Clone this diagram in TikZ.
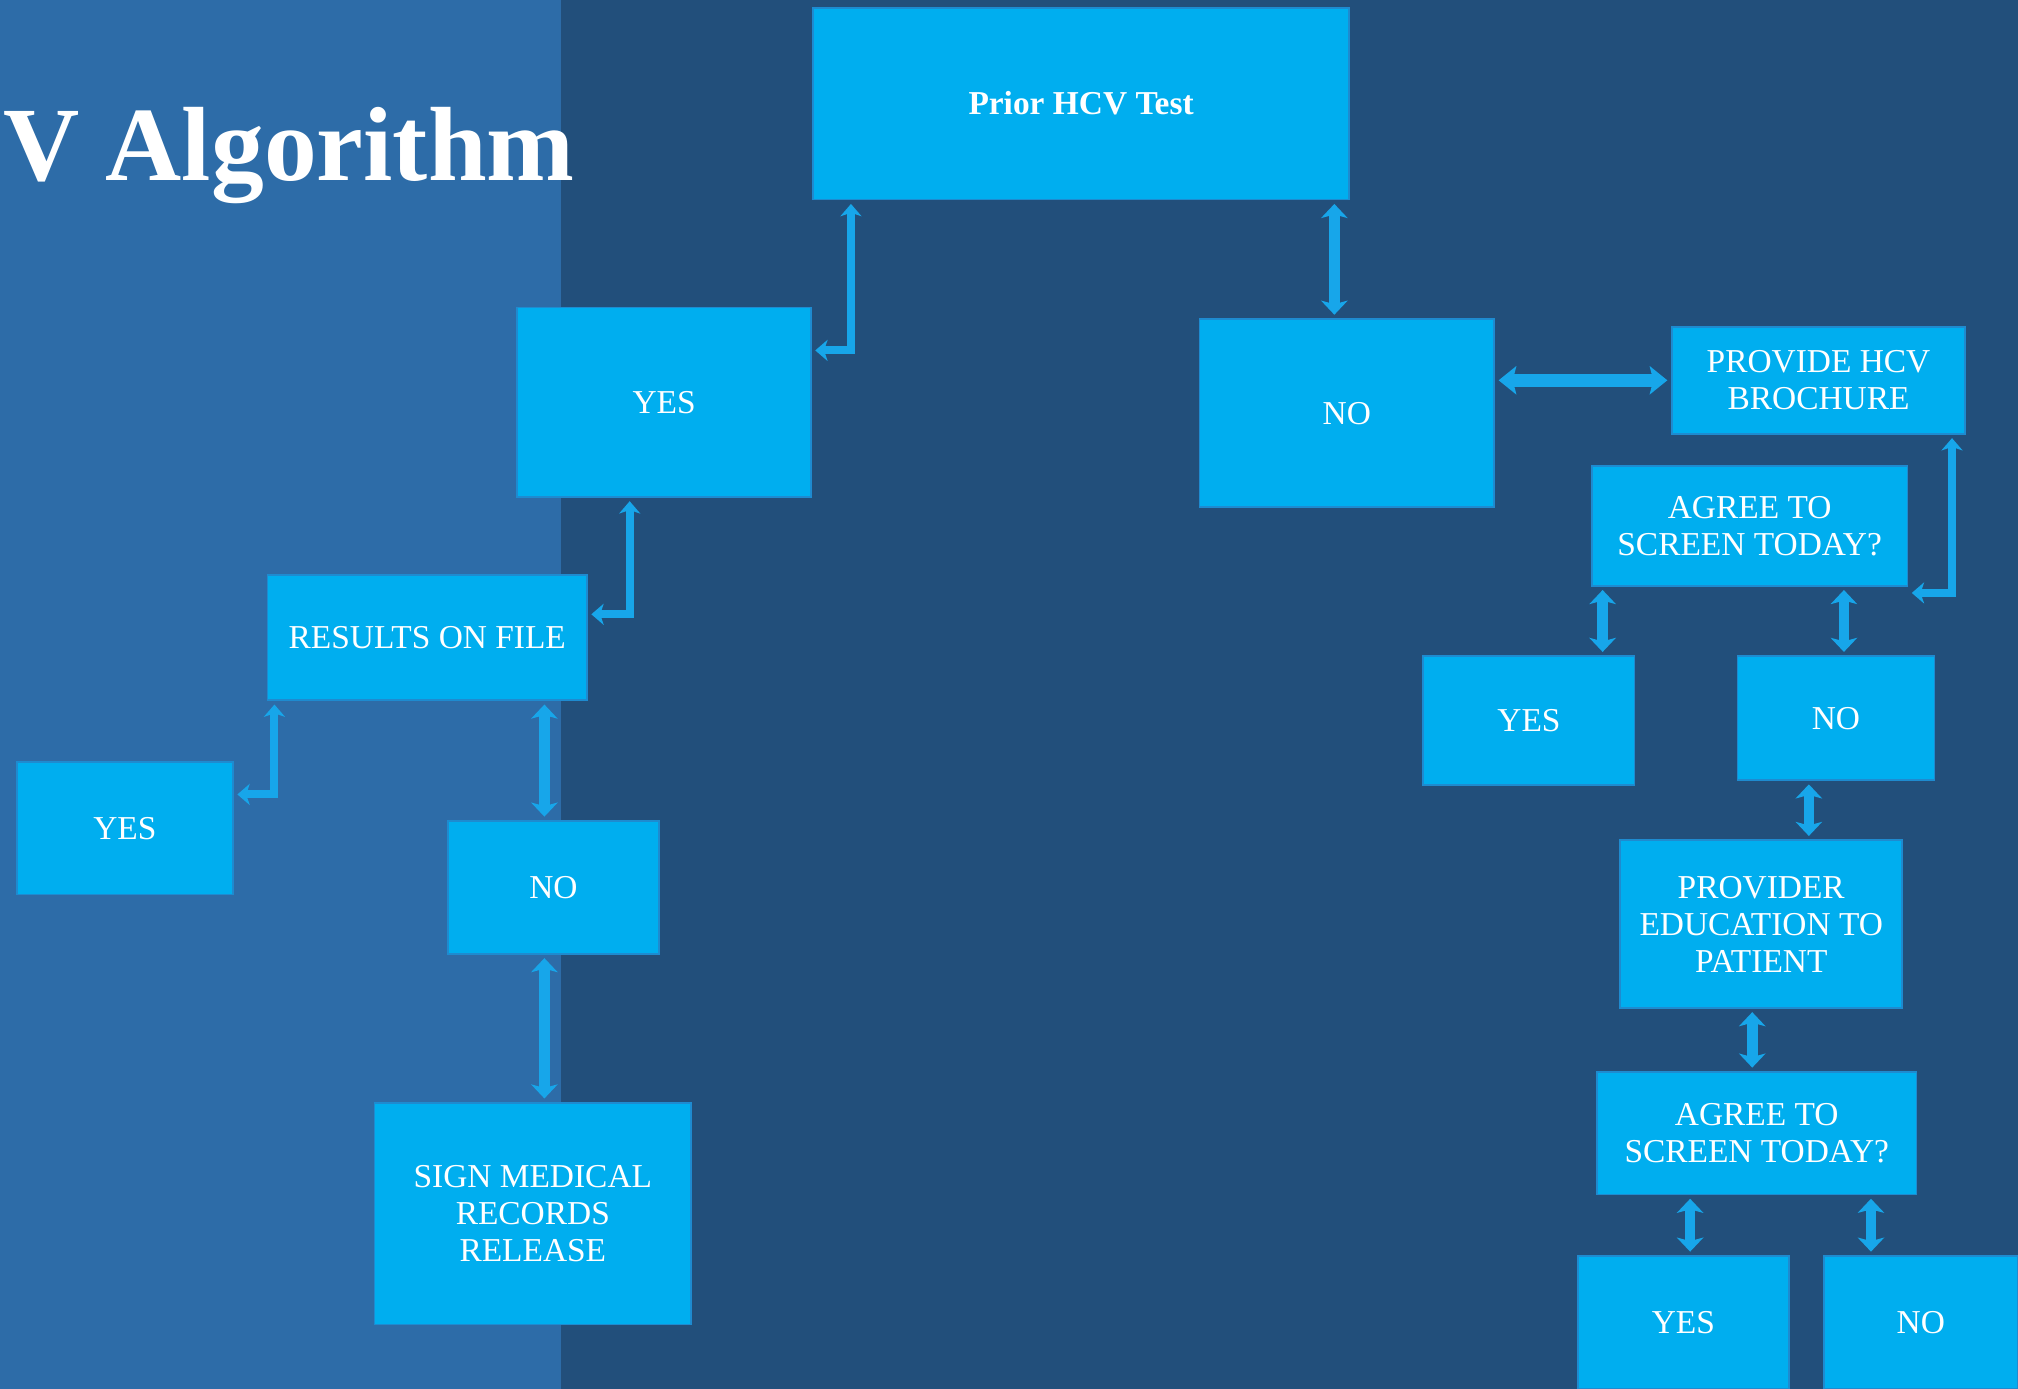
\documentclass[tikz,border=0pt]{standalone}
\usepackage{fontspec}
\setmainfont{Liberation Serif}
\usetikzlibrary{arrows.meta, calc}
\definecolor{PanelL}{HTML}{2D6CA8}
\definecolor{PanelR}{HTML}{224F7B}
\definecolor{BoxC}{HTML}{00AEEF}
\definecolor{EdgeC}{HTML}{1E8BD0}
\definecolor{ArrowC}{HTML}{17A6EA}
\tikzset{
  hbox/.style={draw=EdgeC, line width=0.5pt, fill=BoxC, align=center, inner sep=0pt,
    text=white, font=\fontsize{9.5}{10.5}\selectfont},
  flow/.style={{Stealth[length=4pt, width=7.5pt, inset=1pt]}-{Stealth[length=4pt, width=7.5pt, inset=1pt]},
    line width=3pt, draw=ArrowC, shorten <=1pt, shorten >=1pt},
  flowe/.style={{Stealth[length=3.5pt, width=6pt, inset=1pt]}-{Stealth[length=3.5pt, width=6pt, inset=1pt]},
    line width=2.3pt, draw=ArrowC, shorten <=1pt, shorten >=1pt},
  floww/.style={{Stealth[length=5pt, width=8pt, inset=1pt]}-{Stealth[length=5pt, width=8pt, inset=1pt]},
    line width=3.7pt, draw=ArrowC, shorten <=1pt, shorten >=1pt},
}

\begin{document}
\begin{tikzpicture}[x=0.01287cm, y=-0.01287cm]
    \useasboundingbox (0,0) rectangle (1568,1079);
    \fill[PanelR] (0,0) rectangle (1568,1079);
    \fill[PanelL] (0,0) rectangle (436,1079);
    \node[anchor=base west, inner sep=0pt, text=white, font=\fontsize{30}{30}\selectfont\bfseries] (title) at (2,140) {V Algorithm};

    \node[hbox, minimum width=5.354cm, minimum height=1.918cm, font=\fontsize{9.5}{10.5}\selectfont\bfseries] (prior) at (840,80.5) {Prior HCV Test};
    \node[hbox, minimum width=2.934cm, minimum height=1.892cm] (yesA) at (516,312.5) {YES};
    \node[hbox, minimum width=2.947cm, minimum height=1.879cm] (noA) at (1046.5,321) {NO};
    \node[hbox, minimum width=2.934cm, minimum height=1.068cm] (brochure) at (1413,295.5) {PROVIDE HCV\\BROCHURE};
    \node[hbox, minimum width=3.153cm, minimum height=1.197cm] (agreeA) at (1359.5,408.5) {AGREE TO\\SCREEN TODAY?};
    \node[hbox, minimum width=2.111cm, minimum height=1.287cm] (yesB) at (1188,560) {YES};
    \node[hbox, minimum width=1.969cm, minimum height=1.236cm] (noB) at (1426.5,558) {NO};
    \node[hbox, minimum width=2.819cm, minimum height=1.673cm] (educ) at (1368.5,718) {PROVIDER\\EDUCATION TO\\PATIENT};
    \node[hbox, minimum width=3.192cm, minimum height=1.223cm] (agreeB) at (1365,880.5) {AGREE TO\\SCREEN TODAY?};
    \node[hbox, minimum width=2.111cm, minimum height=1.326cm] (yesC) at (1308,1027.5) {YES};
    \node[hbox, minimum width=1.943cm, minimum height=1.326cm] (noC) at (1492.5,1027.5) {NO};
    \node[hbox, minimum width=3.192cm, minimum height=1.248cm] (results) at (332,495.5) {RESULTS ON FILE};
    \node[hbox, minimum width=2.162cm, minimum height=1.326cm] (yesL) at (97,643.5) {YES};
    \node[hbox, minimum width=2.111cm, minimum height=1.326cm] (noL) at (430,689.5) {NO};
    \node[hbox, minimum width=3.166cm, minimum height=2.214cm] (sign) at (414,943) {SIGN MEDICAL\\RECORDS\\RELEASE};

    \draw[flowe] ($(prior.south west)+(30,0)$) |- ($(yesA.north east)+(0,34)$);
    \draw[flow] ($(prior.south east)+(-12,0)$) coordinate (pn) -- (pn |- noA.north);
    \draw[floww] (brochure.west -| noA.east) -- (brochure.west);
    \draw[flowe] ($(brochure.south east)+(-11,0)$) |- ($(agreeA.south east)+(0,5)$);
    \draw[flow] ($(agreeA.south west)+(9,0)$) coordinate (ay) -- (ay |- yesB.north);
    \draw[flow] ($(agreeA.south east)+(-50,0)$) coordinate (an) -- (an |- noB.north);
    \draw[flow] ($(noB.south)+(-21,0)$) coordinate (nb) -- (nb |- educ.north);
    \draw[flow] ($(educ.south)+(-7,0)$) coordinate (ed) -- (ed |- agreeB.north);
    \draw[flow] ($(agreeB.south west)+(73,0)$) coordinate (by) -- (by |- yesC.north);
    \draw[flow] ($(agreeB.south east)+(-36,0)$) coordinate (bn) -- (bn |- noC.north);
    \draw[flowe] ($(yesA.south west)+(88,0)$) |- ($(results.north east)+(0,31)$);
    \draw[flowe] ($(results.south west)+(6,0)$) |- ($(yesL.north east)+(0,26)$);
    \draw[flow] ($(results.south)+(91,0)$) coordinate (rn) -- (rn |- noL.north);
    \draw[flow] ($(noL.south)+(-7,0)$) coordinate (ns) -- (ns |- sign.north);
  \end{tikzpicture}
\end{document}
